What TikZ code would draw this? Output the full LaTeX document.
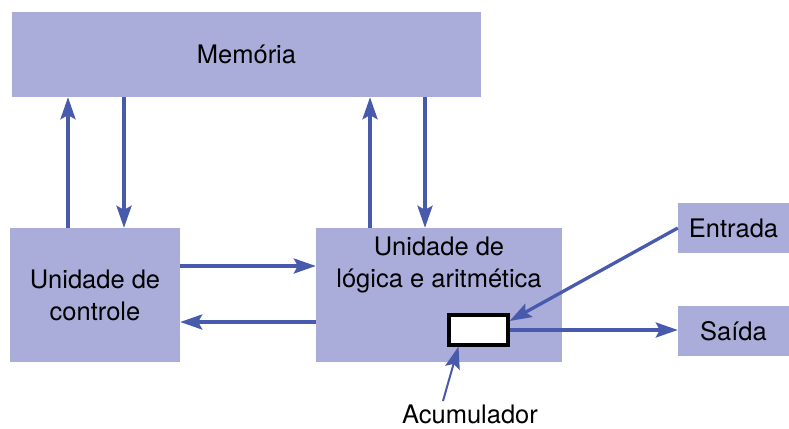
\documentclass[tikz,border=0pt]{standalone}
\usepackage{fontspec}
\setmainfont{TeX Gyre Heros}
\usetikzlibrary{arrows.meta}

\definecolor{boxfill}{RGB}{170,172,218}
\definecolor{flowblue}{RGB}{72,90,172}

\tikzset{
  unit/.style={fill=boxfill, inner sep=0pt, align=center,
    font=\fontsize{25.5}{32}\selectfont},
  flow/.style={draw=flowblue, line width=3.3pt,
    -{Stealth[length=22pt,width=15pt,inset=4pt]}},
}

\begin{document}
\begin{tikzpicture}[x=1pt,y=-1pt]
    \useasboundingbox (0,0) rectangle (789,428);
    \node[unit, minimum width=469pt, minimum height=85pt] (mem) at (246.5,54.5) {Memória};
    \node[unit, minimum width=170pt, minimum height=134pt] (ctrl) at (95,295) {Unidade de\\controle};
    \node[unit, minimum width=246pt, minimum height=134pt,
      label={[font=\fontsize{25.5}{32}\selectfont, align=center, anchor=north, yshift=-6pt]north:Unidade de\\lógica e aritmética}] (alu) at (439,295) {};
    \node[unit, minimum width=111pt, minimum height=50pt] (entrada) at (733.5,228) {Entrada};
    \node[unit, minimum width=111pt, minimum height=50pt] (saida) at (733.5,331) {Saída};
    \node[draw=black, fill=white, line width=3.2pt, minimum width=59pt, minimum height=30pt, inner sep=0pt] (acc) at (478.5,330) {};
    \node[font=\fontsize{25.5}{32}\selectfont] (acum) at (470,414) {Acumulador};
    \path[flow] (ctrl.north -| 68,0) -- (mem.south -| 68,0);
    \path[flow] (mem.south -| 124,0) -- (ctrl.north -| 124,0);
    \path[flow] (alu.north -| 370,0) -- (mem.south -| 370,0);
    \path[flow] (mem.south -| 425,0) -- (alu.north -| 425,0);
    \path[flow] (ctrl.east |- 0,266) -- (alu.west |- 0,266);
    \path[flow] (alu.west |- 0,322) -- (ctrl.east |- 0,322);
    \path[flow] (entrada.west) -- ([yshift=9pt]acc.east);
    \path[flow] (acc.east) -- (acc.east -| saida.west);
    \path[flow, line width=2pt] (acum.north -| 443,0) -- ([xshift=-20pt]acc.south);
  \end{tikzpicture}
\end{document}
